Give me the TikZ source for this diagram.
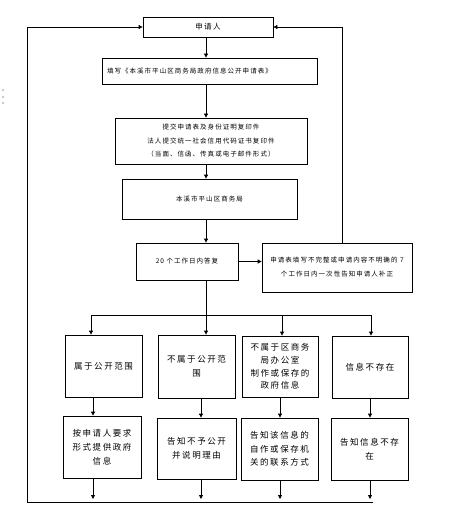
\documentclass[tikz,border=0pt]{standalone}
\usepackage{fontspec}
\newfontfamily\cjks[LetterSpace=16]{Noto Sans CJK SC}
\newfontfamily\cjkb[LetterSpace=18]{Noto Sans CJK SC}
\usetikzlibrary{arrows.meta}
\begin{document}
\begin{tikzpicture}[x=1pt,y=-1pt,
  box/.style={draw, line width=0.8pt, inner sep=1pt, align=center,
    font=\cjks\fontsize{6.5}{13.5}\selectfont},
  big/.style={box, font=\cjkb\fontsize{8.5}{13.5}\selectfont},
  arr/.style={line width=0.8pt, -{Triangle[length=4pt,width=4pt]}},
  ln/.style={line width=0.8pt}]
\fill[white] (0,0) rectangle (461,516);
\useasboundingbox (0,0) rectangle (461,516);
% UI dots
\fill[gray!55] (3,90) circle (1.1pt) (3,97) circle (1.1pt) (3,103) circle (1.1pt);
% boxes
\node[box, minimum width=130pt, minimum height=20pt, font=\cjkb\fontsize{7.5}{9}\selectfont] (n1) at (208,27) {申请人};
\node[box, minimum width=215pt, minimum height=26pt, inner xsep=5pt, text width=205pt, align=left] (n2) at (209.5,71) {填写《本溪市平山区商务局政府信息公开申请表》};
\node[box, minimum width=192pt, minimum height=46pt] (n3) at (211,141) {提交申请表及身份证明复印件\\法人提交统一社会信用代码证书复印件\\（当面、信函、传真或电子邮件形式）};
\node[box, minimum width=175pt, minimum height=40pt] (n4) at (209.5,199) {本溪市平山区商务局};
\node[box, minimum width=102pt, minimum height=37pt] (n5) at (187,261.5) {20 个工作日内答复};
\node[box, minimum width=150pt, minimum height=49pt, font=\cjks\fontsize{6.5}{14}\selectfont] (n6) at (337,267.5) {申请表填写不完整或申请内容不明确的 7\\个工作日内一次性告知申请人补正};
\node[big, minimum width=77pt, minimum height=62pt] (n7) at (103.5,366) {属于公开范围};
\node[big, minimum width=77pt, minimum height=63pt] (n8) at (196.5,366.5) {不属于公开范\\围};
\node[big, minimum width=76pt, minimum height=61pt, font=\cjkb\fontsize{8.5}{12.7}\selectfont] (n9) at (280,366.5) {不属于区商务\\局办公室\\制作或保存的\\政府信息};
\node[big, minimum width=76pt, minimum height=62pt] (n10) at (370,367) {信息不存在};
\node[big, minimum width=78pt, minimum height=62pt, font=\cjkb\fontsize{8.5}{14}\selectfont] (n11) at (102,447) {按申请人要求\\形式提供政府\\信息};
\node[big, minimum width=79pt, minimum height=61pt] (n12) at (196.5,448.5) {告知不予公开\\并说明理由};
\node[big, minimum width=77pt, minimum height=62pt] (n13) at (279.5,449) {告知该信息的\\自作或保存机\\关的联系方式};
\node[big, minimum width=77pt, minimum height=62pt] (n14) at (369.5,449) {告知信息不存\\在};
% main column
\coordinate (mc) at (206,0);
\draw[arr] (n1.south -| mc) -- (n2.north -| mc);
\draw[arr] (n2.south -| mc) -- (n3.north -| mc);
\draw[arr] (n3.south -| mc) -- (n4.north -| mc);
\draw[arr] (n4.south -| mc) -- (n5.north -| mc);
\draw[arr] (n5.east) -- (n5.east -| n6.west);
% right loop
\coordinate (rt) at (342,27);
\draw[ln] (rt |- n6.north) -- (rt);
\draw[arr] (rt) -- (n1.east);
% branching
\coordinate (c1u) at (91,315);
\coordinate (c2u) at (206,315);
\coordinate (c3u) at (282,315);
\coordinate (c4u) at (371,315);
\draw[ln] (c2u |- n5.south) -- (c2u);
\draw[ln] (c1u) -- (c4u);
\draw[arr] (c1u) -- (c1u |- n7.north);
\draw[arr] (c2u) -- (c2u |- n8.north);
\draw[arr] (c3u) -- (c3u |- n9.north);
\draw[arr] (c4u) -- (c4u |- n10.north);
% lower arrows
\coordinate (d1) at (93,499);
\coordinate (d2) at (201,499);
\coordinate (d3) at (280,499);
\coordinate (d4) at (370,499);
\draw[arr] (n7.south -| d1) -- (n11.north -| d1);
\draw[arr] (n8.south -| d2) -- (n12.north -| d2);
\draw[arr] (n9.south -| d3) -- (n13.north -| d3);
\draw[arr] (n10.south -| d4) -- (n14.north -| d4);
\draw[arr] (d1 |- n11.south) -- (d1);
\draw[arr] (d2 |- n12.south) -- (d2);
\draw[arr] (d3 |- n13.south) -- (d3);
\draw[arr] (d4 |- n14.south) -- (d4);
% left loop
\coordinate (lb) at (27,502);
\coordinate (rb) at (373,502);
\coordinate (lt) at (27,27);
\draw[ln] (rb) -- (lb) -- (lt);
\draw[arr] (lt) -- (n1.west);
\end{tikzpicture}
\end{document}
